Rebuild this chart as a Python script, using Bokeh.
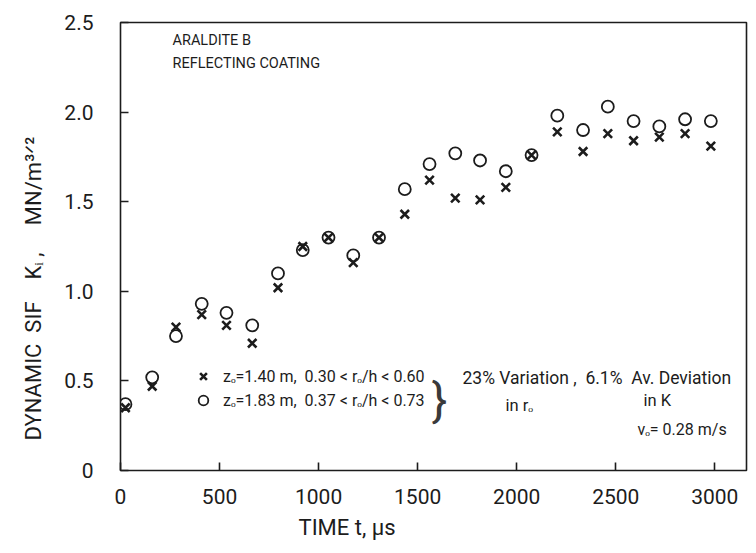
from bokeh.plotting import figure
from bokeh.models import Range1d, FixedTicker, Label, Legend, LegendItem, Title
from bokeh.embed import file_html
from bokeh.resources import INLINE

# ---- data ----
time_us = [25, 160, 280, 410, 535, 665, 795, 920, 1050, 1175, 1305, 1435,
           1560, 1690, 1815, 1945, 2075, 2205, 2335, 2460, 2590, 2720, 2850, 2980]
k_z140 = [0.35, 0.47, 0.80, 0.87, 0.81, 0.71, 1.02, 1.25, 1.30, 1.16, 1.30, 1.43,
          1.62, 1.52, 1.51, 1.58, 1.76, 1.89, 1.78, 1.88, 1.84, 1.86, 1.88, 1.81]
k_z183 = [0.37, 0.52, 0.75, 0.93, 0.88, 0.81, 1.10, 1.23, 1.30, 1.20, 1.30, 1.57,
          1.71, 1.77, 1.73, 1.67, 1.76, 1.98, 1.90, 2.03, 1.95, 1.92, 1.96, 1.95]
x_ticks = [0, 500, 1000, 1500, 2000, 2500, 3000]
y_ticks = [0, 0.5, 1.0, 1.5, 2.0, 2.5]
y_tick_labels = ["0", "0.5", "1.0", "1.5", "2.0", "2.5"]
series_labels = ["zₒ=1.40 m,  0.30 < rₒ/h < 0.60", "zₒ=1.83 m,  0.37 < rₒ/h < 0.73"]

INK = "#1c1c1c"
FONT = "Roboto"
NB = "\u00a0"

W, H = 750, 545
FRAME_L, FRAME_R, FRAME_T, FRAME_B = 120, 746, 22, 470   # page pixels
X0, X1 = 0, 3160
Y0, Y1 = 0.0, 2.5

def X(px):  # page px -> data x (for placing annotations)
    return X0 + (px - FRAME_L) * (X1 - X0) / (FRAME_R - FRAME_L)

def Y(py):  # page px -> data y
    return Y0 + (FRAME_B - py) * (Y1 - Y0) / (FRAME_B - FRAME_T)

p = figure(width=W, height=H, output_backend="svg", toolbar_location=None,
           x_range=Range1d(X0, X1), y_range=Range1d(Y0, Y1),
           min_border_left=FRAME_L, min_border_right=W - FRAME_R,
           min_border_top=FRAME_T, min_border_bottom=H - FRAME_B)
p.background_fill_color = "white"
p.border_fill_color = "white"
p.outline_line_color = INK
p.outline_line_width = 1.6
p.grid.visible = False

for ax in (p.xaxis[0], p.yaxis[0]):
    ax.axis_line_color = None
    ax.major_tick_in = 8
    ax.major_tick_out = 0
    ax.minor_tick_line_color = None
    ax.major_tick_line_color = INK
    ax.major_tick_line_width = 1.6
    ax.major_label_text_font = FONT
    ax.major_label_text_color = INK

p.xaxis.ticker = FixedTicker(ticks=x_ticks)
p.xaxis.major_label_text_font_size = "21px"
p.xaxis.major_label_standoff = 18

p.yaxis.ticker = FixedTicker(ticks=y_ticks)
p.yaxis.major_label_overrides = {t: l for t, l in zip(y_ticks, y_tick_labels)}
p.yaxis.major_label_text_font_size = "21px"
p.yaxis.major_label_standoff = 27

ylab = "DYNAMIC" + NB * 2 + "SIF" + NB * 4 + "Kᵢ" + NB + "," + NB * 5 + "MN/m³ᐟ²"
p.add_layout(Title(text=ylab, align="left", offset=30, standoff=31,
                   text_font=FONT, text_font_size="22px", text_font_style="normal",
                   text_color=INK), "left")
p.add_layout(Title(text="TIME" + NB + "t," + NB + "μs", align="left", offset=178, standoff=12,
                   text_font=FONT, text_font_size="22px", text_font_style="normal",
                   text_color=INK), "below")

r1 = p.scatter(time_us, k_z140, marker="x", size=12, line_width=2.6, line_color=INK)
r2 = p.scatter(time_us, k_z183, marker="circle", size=12, line_width=1.8,
               line_color=INK, fill_color=None)

legend = Legend(items=[LegendItem(label=series_labels[0], renderers=[r1]),
                       LegendItem(label=series_labels[1], renderers=[r2])],
                location=(71, 58), orientation="vertical",
                border_line_color=None, background_fill_alpha=0,
                padding=0, margin=0, spacing=-2,
                glyph_width=24, glyph_height=24, label_height=24,
                label_standoff=8,
                label_text_font=FONT, label_text_font_size="16px",
                label_text_color=INK)
p.add_layout(legend, "center")

def lab(px, py, text, size="15px", align="left", baseline="middle", font=FONT, color=INK):
    p.add_layout(Label(x=X(px), y=Y(py), text=text, text_font=font,
                       text_font_size=size, text_color=color, text_align=align,
                       text_baseline=baseline))

lab(172, 40, "ARALDITE" + NB + "B", size="14.5px")
lab(172, 63, "REFLECTING" + NB + "COATING", size="14.5px")
lab(439, 399, "}", size="46px", align="center", color="#3a3a3a")
lab(462, 377, "23%" + NB + "Variation" + NB + "," + NB * 2 + "6.1%" + NB * 2 + "Av." + NB + "Deviation",
    size="17.5px")
lab(505, 405, "in" + NB + "rₒ", size="16.5px")
lab(643, 400, "in" + NB + "K", size="16.5px")
lab(637, 429, "vₒ=" + NB + "0.28" + NB + "m/s", size="16px")

open("out.html", "w").write(file_html(p, INLINE))
